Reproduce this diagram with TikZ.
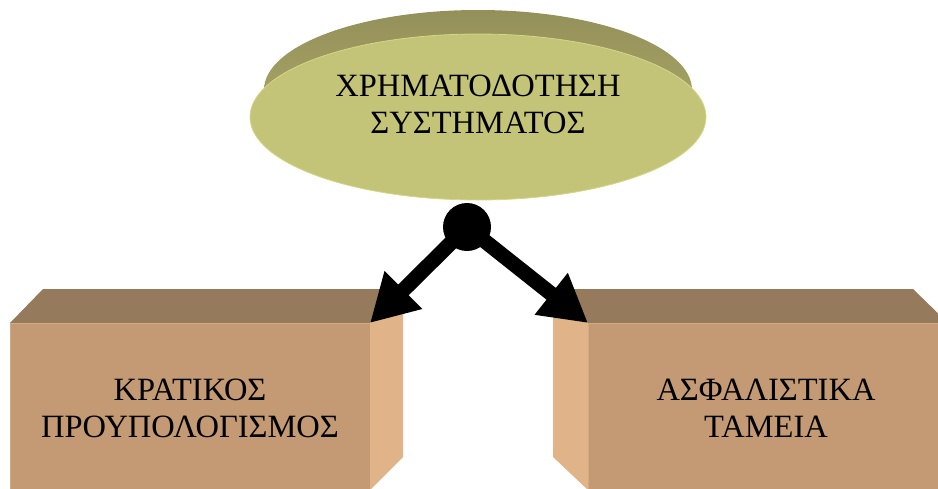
\documentclass[tikz,border=0pt]{standalone}
\usepackage{fontspec}
\setmainfont{Liberation Serif}
\usetikzlibrary{arrows.meta}
\definecolor{boxtop}{RGB}{150,122,92}
\definecolor{boxfront}{RGB}{195,154,115}
\definecolor{boxside}{RGB}{224,180,136}
\definecolor{boxedge}{RGB}{210,170,128}
\definecolor{diskface}{RGB}{196,196,120}
\definecolor{diskedge}{RGB}{214,214,134}
\definecolor{diskrim}{RGB}{178,176,108}
\definecolor{diskrimdark}{RGB}{148,144,90}
\begin{document}
\begin{tikzpicture}[x=1pt,y=-1pt,
  caption/.style={align=center, font=\fontsize{32.5}{36.5}\selectfont, text=black, inner sep=0pt, anchor=base},
  flow/.style={line width=15pt, -{Triangle[length=47pt,width=50pt]}},
  hubdot/.style={circle, fill=black, minimum size=48pt, inner sep=0pt},
]
\useasboundingbox (0,0) rectangle (938,488);
\begin{scope}
\clip (0,0) rectangle (938,488);
% left block: top, front and side faces
\fill[boxtop] (10,323) -- (43,289) -- (403,289) -- (370,323) -- cycle;
\fill[boxfront] (10,323) rectangle (370,495);
\draw[boxedge, line width=1pt] (10,495) -- (10,323) -- (370,323);
\fill[boxside] (370,323) -- (403,289) -- (403,457) -- (370,490) -- cycle;
% right block: top, side and front faces
\fill[boxtop] (553,289) -- (913,289) -- (948,323) -- (588,323) -- cycle;
\fill[boxside] (553,289) -- (588,323) -- (588,490) -- (553,457) -- cycle;
\fill[boxfront] (588,323) rectangle (948,495);
\draw[boxedge, line width=1pt] (588,495) -- (588,323) -- (948,323);
\end{scope}
% olive disk: shaded rim behind, flat face in front
\shade[top color=diskrimdark, bottom color=diskrim]
  (478,90) ellipse [x radius=214, y radius=80];
\fill[diskface] (478,117) ellipse [x radius=228, y radius=83];
\draw[diskedge, line width=0.8pt] (478,117) ellipse [x radius=228, y radius=83];
% captions (anchored on the baseline of the last line)
\node[caption] (top) at (478,133) {ΧΡΗΜΑΤΟΔΟΤΗΣΗ\\ΣΥΣΤΗΜΑΤΟΣ};
\node[caption] (state) at (190,437) {ΚΡΑΤΙΚΟΣ\\ΠΡΟΥΠΟΛΟΓΙΣΜΟΣ};
\node[caption] (funds) at (766,437) {ΑΣΦΑΛΙΣΤΙΚΑ\\ΤΑΜΕΙΑ};
% hub and arrows to the block corners
\coordinate (lt) at (370,323);
\coordinate (rt) at (588,323);
\node[hubdot] (hub) at (467,227) {};
\draw[flow] (hub.center) -- (lt);
\draw[flow] (hub.center) -- (rt);
\end{tikzpicture}
\end{document}
